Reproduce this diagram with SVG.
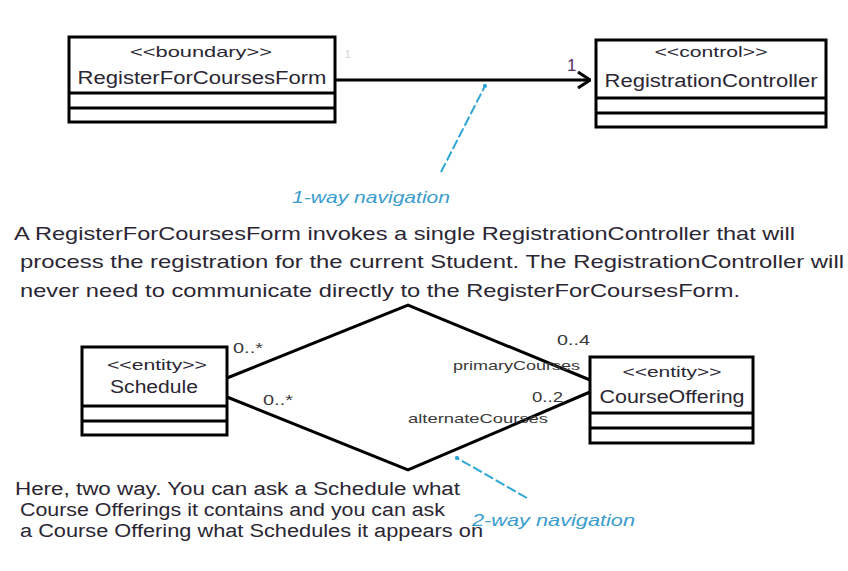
<svg xmlns="http://www.w3.org/2000/svg" width="848" height="571" viewBox="0 0 848 571">
<defs>
<style>
.box{fill:#fff;stroke:#000;stroke-width:3}
.div{stroke:#000;stroke-width:3}
.t{font-family:"Liberation Sans",Arial,sans-serif;fill:#2b2633}
.st{font-size:15px;text-anchor:middle}
.nm{font-size:18px;text-anchor:middle}
.para{font-size:19px}
.lbl{font-family:"Liberation Sans",Arial,sans-serif;fill:#3a3a3a;font-size:14px}
.nav{font-family:"Liberation Sans",Arial,sans-serif;fill:#3a9ccc;font-size:17px;font-style:italic}
.conn{fill:none;stroke:#000;stroke-width:3;stroke-linejoin:miter}
.blue{fill:none;stroke:#2ea6d6;stroke-width:2;stroke-dasharray:10 3}
</style>
<marker id="open" viewBox="0 0 14 18" refX="13" refY="9" markerWidth="14" markerHeight="18" markerUnits="userSpaceOnUse" orient="auto">
<path d="M1,1 L13,9 L1,17" fill="none" stroke="#000" stroke-width="3"/>
</marker>
<marker id="bdot" viewBox="0 0 6 6" refX="3" refY="3" markerWidth="5" markerHeight="5" markerUnits="userSpaceOnUse">
<circle cx="3" cy="3" r="2.5" fill="#2ea6d6"/>
</marker>
</defs>
<rect width="848" height="571" fill="#ffffff"/>

<g id="connectors">
<line class="conn" x1="335" y1="80" x2="590" y2="80" marker-end="url(#open)"/>
<polyline class="conn" points="227,378 408,305 590,380"/>
<polyline class="conn" points="227,397 408,470 590,392"/>
<line class="blue" x1="441" y1="172" x2="485" y2="86" marker-end="url(#bdot)"/>
<line class="blue" x1="527" y1="498" x2="457" y2="458" marker-end="url(#bdot)"/>
<text class="lbl" x="345" y="58" style="font-size:10px;fill:#cfcfcf">1</text>
<text class="lbl" x="567" y="71" style="font-size:17px;fill:#5a2a6a">1</text>
<text class="lbl" x="233" y="353" textLength="30" lengthAdjust="spacingAndGlyphs">0..*</text>
<text class="lbl" x="263" y="405" textLength="30" lengthAdjust="spacingAndGlyphs">0..*</text>
<text class="lbl" x="557" y="345" textLength="33" lengthAdjust="spacingAndGlyphs">0..4</text>
<text class="lbl" x="453" y="370" style="font-size:13px" textLength="127" lengthAdjust="spacingAndGlyphs">primaryCourses</text>
<text class="lbl" x="532" y="402" textLength="31" lengthAdjust="spacingAndGlyphs">0..2</text>
<text class="lbl" x="408" y="423" style="font-size:13px" textLength="140" lengthAdjust="spacingAndGlyphs">alternateCourses</text>
<text class="nav" x="292" y="203" textLength="158" lengthAdjust="spacingAndGlyphs">1-way navigation</text>
<text class="nav" x="472" y="526" textLength="163" lengthAdjust="spacingAndGlyphs">2-way navigation</text>
</g>

<g id="RegisterForCoursesForm">
<rect class="box" x="69" y="37" width="266" height="85"/>
<line class="div" x1="69" y1="93" x2="335" y2="93"/>
<line class="div" x1="69" y1="108" x2="335" y2="108"/>
<text class="t st" x="201" y="57" textLength="142" lengthAdjust="spacingAndGlyphs">&lt;&lt;boundary&gt;&gt;</text>
<text class="t nm" x="202" y="84" textLength="249" lengthAdjust="spacingAndGlyphs">RegisterForCoursesForm</text>
</g>

<g id="RegistrationController">
<rect class="box" x="596" y="40" width="230" height="87"/>
<line class="div" x1="596" y1="98" x2="826" y2="98"/>
<line class="div" x1="596" y1="113" x2="826" y2="113"/>
<text class="t st" x="711" y="57" textLength="113" lengthAdjust="spacingAndGlyphs">&lt;&lt;control&gt;&gt;</text>
<text class="t nm" x="711" y="87" textLength="213" lengthAdjust="spacingAndGlyphs">RegistrationController</text>
</g>

<g id="Schedule">
<rect class="box" x="82" y="347" width="145" height="88"/>
<line class="div" x1="82" y1="406" x2="227" y2="406"/>
<line class="div" x1="82" y1="421" x2="227" y2="421"/>
<text class="t st" x="157" y="370" textLength="100" lengthAdjust="spacingAndGlyphs">&lt;&lt;entity&gt;&gt;</text>
<text class="t nm" x="154" y="393" textLength="88" lengthAdjust="spacingAndGlyphs">Schedule</text>
</g>

<g id="CourseOffering">
<rect class="box" x="590" y="357" width="163" height="86"/>
<line class="div" x1="590" y1="413" x2="753" y2="413"/>
<line class="div" x1="590" y1="428" x2="753" y2="428"/>
<text class="t st" x="672" y="377" textLength="99" lengthAdjust="spacingAndGlyphs">&lt;&lt;entity&gt;&gt;</text>
<text class="t nm" x="672" y="403" textLength="145" lengthAdjust="spacingAndGlyphs">CourseOffering</text>
</g>

<g id="notes">
<text class="t para" x="14" y="240" textLength="781" lengthAdjust="spacingAndGlyphs">A RegisterForCoursesForm  invokes a single RegistrationController that will</text>
<text class="t para" x="20" y="268" textLength="824" lengthAdjust="spacingAndGlyphs">process the registration  for the current  Student.  The  RegistrationController will</text>
<text class="t para" x="20" y="297" textLength="720" lengthAdjust="spacingAndGlyphs">never need to communicate directly to the RegisterForCoursesForm.</text>
<text class="t para" style="font-size:18px" x="15" y="495" textLength="445" lengthAdjust="spacingAndGlyphs">Here, two way.  You can ask a Schedule what</text>
<text class="t para" style="font-size:18px" x="20" y="516" textLength="425" lengthAdjust="spacingAndGlyphs">Course Offerings it contains and you can ask</text>
<text class="t para" style="font-size:18px" x="20" y="537" textLength="463" lengthAdjust="spacingAndGlyphs">a  Course Offering what Schedules it appears on</text>
</g>
</svg>
